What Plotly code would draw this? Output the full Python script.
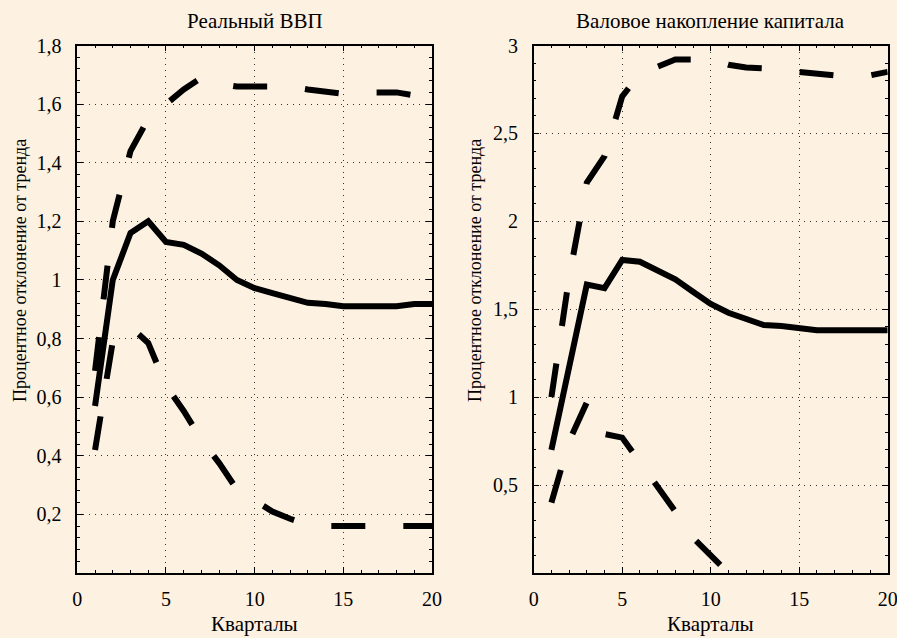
import plotly.graph_objects as go

# ---- data ----
quarters = list(range(1, 21))

gdp_mid = [0.57, 1.00, 1.16, 1.20, 1.13, 1.12, 1.09, 1.05, 1.00, 0.972,
           0.955, 0.94, 0.922, 0.918, 0.91, 0.91, 0.91, 0.91, 0.918, 0.918]
gdp_upper = [0.69, 1.20, 1.44, 1.55, 1.60, 1.65, 1.69, 1.67, 1.66, 1.66,
             1.66, 1.66, 1.65, 1.645, 1.635, 1.64, 1.64, 1.64, 1.63, 1.62]
gdp_lower = [0.42, 0.79, 0.84, 0.785, 0.64, 0.553, 0.455, 0.375, 0.285, 0.245,
             0.21, 0.185, 0.165, 0.16, 0.16, 0.16, 0.16, 0.16, 0.16, 0.16]

inv_mid = [0.70, 1.17, 1.64, 1.62, 1.78, 1.77, 1.72, 1.67, 1.60, 1.53,
           1.48, 1.445, 1.41, 1.405, 1.39, 1.38, 1.38, 1.38, 1.38, 1.38]
inv_upper = [1.00, 1.68, 2.22, 2.37, 2.71, 2.84, 2.88, 2.92, 2.92, 2.92,
             2.89, 2.875, 2.87, 2.86, 2.85, 2.845, 2.83, 2.83, 2.83, 2.85]
inv_lower = [0.40, 0.75, 0.97, 0.79, 0.77, 0.63, 0.50, 0.35, 0.20, 0.10,
             0.00, -0.06, -0.10, -0.13, -0.15, -0.16, -0.17, -0.17, -0.17, -0.17]

titles = ["Реальный ВВП", "Валовое накопление капитала"]
x_title = "Кварталы"
y_title = "Процентное отклонение от тренда"

x_ticks = [0, 5, 10, 15, 20]
x_ticktext = ["0", "5", "10", "15", "20"]
gdp_yticks = [0.2, 0.4, 0.6, 0.8, 1.0, 1.2, 1.4, 1.6, 1.8]
gdp_yticktext = ["0,2", "0,4", "0,6", "0,8", "1", "1,2", "1,4", "1,6", "1,8"]
inv_yticks = [0.5, 1.0, 1.5, 2.0, 2.5, 3.0]
inv_yticktext = ["0,5", "1", "1,5", "2", "2,5", "3"]

# ---- style ----
BG = "#fdf1e2"
FONT = "Liberation Serif, Times New Roman, Times, DejaVu Serif, serif"
LW = 6
DASH = "34px,38px"

W, H = 897, 638
left_dom = [77.3 / W, 432.0 / W]
right_dom = [533.7 / W, 887.7 / W]
y_dom = [1 - 573.0 / H, 1 - 45.5 / H]

fig = go.Figure()

def add_panel(xa, ya, mid, up, lo):
    fig.add_trace(go.Scatter(x=quarters, y=up, mode="lines", xaxis=xa, yaxis=ya,
                             line=dict(color="black", width=LW, dash=DASH), showlegend=False))
    fig.add_trace(go.Scatter(x=quarters, y=lo, mode="lines", xaxis=xa, yaxis=ya,
                             line=dict(color="black", width=LW, dash=DASH), showlegend=False))
    fig.add_trace(go.Scatter(x=quarters, y=mid, mode="lines", xaxis=xa, yaxis=ya,
                             line=dict(color="black", width=LW), showlegend=False))

add_panel("x", "y", gdp_mid, gdp_upper, gdp_lower)
add_panel("x2", "y2", inv_mid, inv_upper, inv_lower)

tickfont = dict(family=FONT, size=20, color="black")

def xaxis(dom, anchor):
    return dict(domain=dom, anchor=anchor, range=[0, 20], tickmode="array",
                tickvals=x_ticks, ticktext=x_ticktext, tickfont=tickfont,
                showline=True, linecolor="black", linewidth=1.5, mirror="ticks",
                ticks="inside", ticklen=6, tickcolor="black", tickwidth=1,
                showgrid=True, gridcolor="#333333", gridwidth=1, griddash="1px,5px",
                zeroline=False, ticklabelstandoff=7, automargin=False,
                ticklabeloverflow="allow",
                minor=dict(ticks="inside", ticklen=3, dtick=1, tick0=0,
                           tickcolor="black", showgrid=False))

def yaxis(dom, anchor, rng, tv, tt, minor_d):
    return dict(domain=dom, anchor=anchor, range=rng, tickmode="array",
                tickvals=tv, ticktext=tt, tickfont=tickfont,
                showline=True, linecolor="black", linewidth=1.5, mirror="ticks",
                ticks="inside", ticklen=6, tickcolor="black", tickwidth=1,
                showgrid=True, gridcolor="#333333", gridwidth=1, griddash="1px,5px",
                zeroline=False, ticklabelstandoff=10, automargin=False,
                ticklabeloverflow="allow",
                minor=dict(ticks="inside", ticklen=3, dtick=minor_d, tick0=0,
                           tickcolor="black", showgrid=False))

fig.update_layout(
    width=W, height=H,
    margin=dict(l=0, r=0, t=0, b=0, pad=0),
    paper_bgcolor=BG, plot_bgcolor=BG,
    font=dict(family=FONT, size=20, color="black"),
    xaxis=xaxis(left_dom, "y"),
    yaxis=yaxis(y_dom, "x", [0, 1.8], gdp_yticks, gdp_yticktext, 0.04),
    xaxis2=xaxis(right_dom, "y2"),
    yaxis2=yaxis(y_dom, "x2", [0, 3], inv_yticks, inv_yticktext, 0.1),
)

ann = []
for dom, t in zip([left_dom, right_dom], titles):
    cx = (dom[0] + dom[1]) / 2
    ann.append(dict(text=t, x=cx, y=1 - 21 / H, xref="paper", yref="paper",
                    showarrow=False, xanchor="center", yanchor="middle",
                    font=dict(family=FONT, size=21, color="black")))
    ann.append(dict(text=x_title, x=cx, y=1 - 624 / H, xref="paper", yref="paper",
                    showarrow=False, xanchor="center", yanchor="middle",
                    font=dict(family=FONT, size=21, color="black")))
for xc in [20, 475]:
    ann.append(dict(text=y_title, x=xc / W, y=1 - 271 / H, xref="paper", yref="paper",
                    showarrow=False, xanchor="center", yanchor="middle", textangle=-90,
                    font=dict(family=FONT, size=18, color="black")))
fig.update_layout(annotations=ann)

fig.write_html("out.html", config={"displayModeBar": False},
               post_script="document.body.style.margin='0px';document.body.style.overflow='hidden';")
